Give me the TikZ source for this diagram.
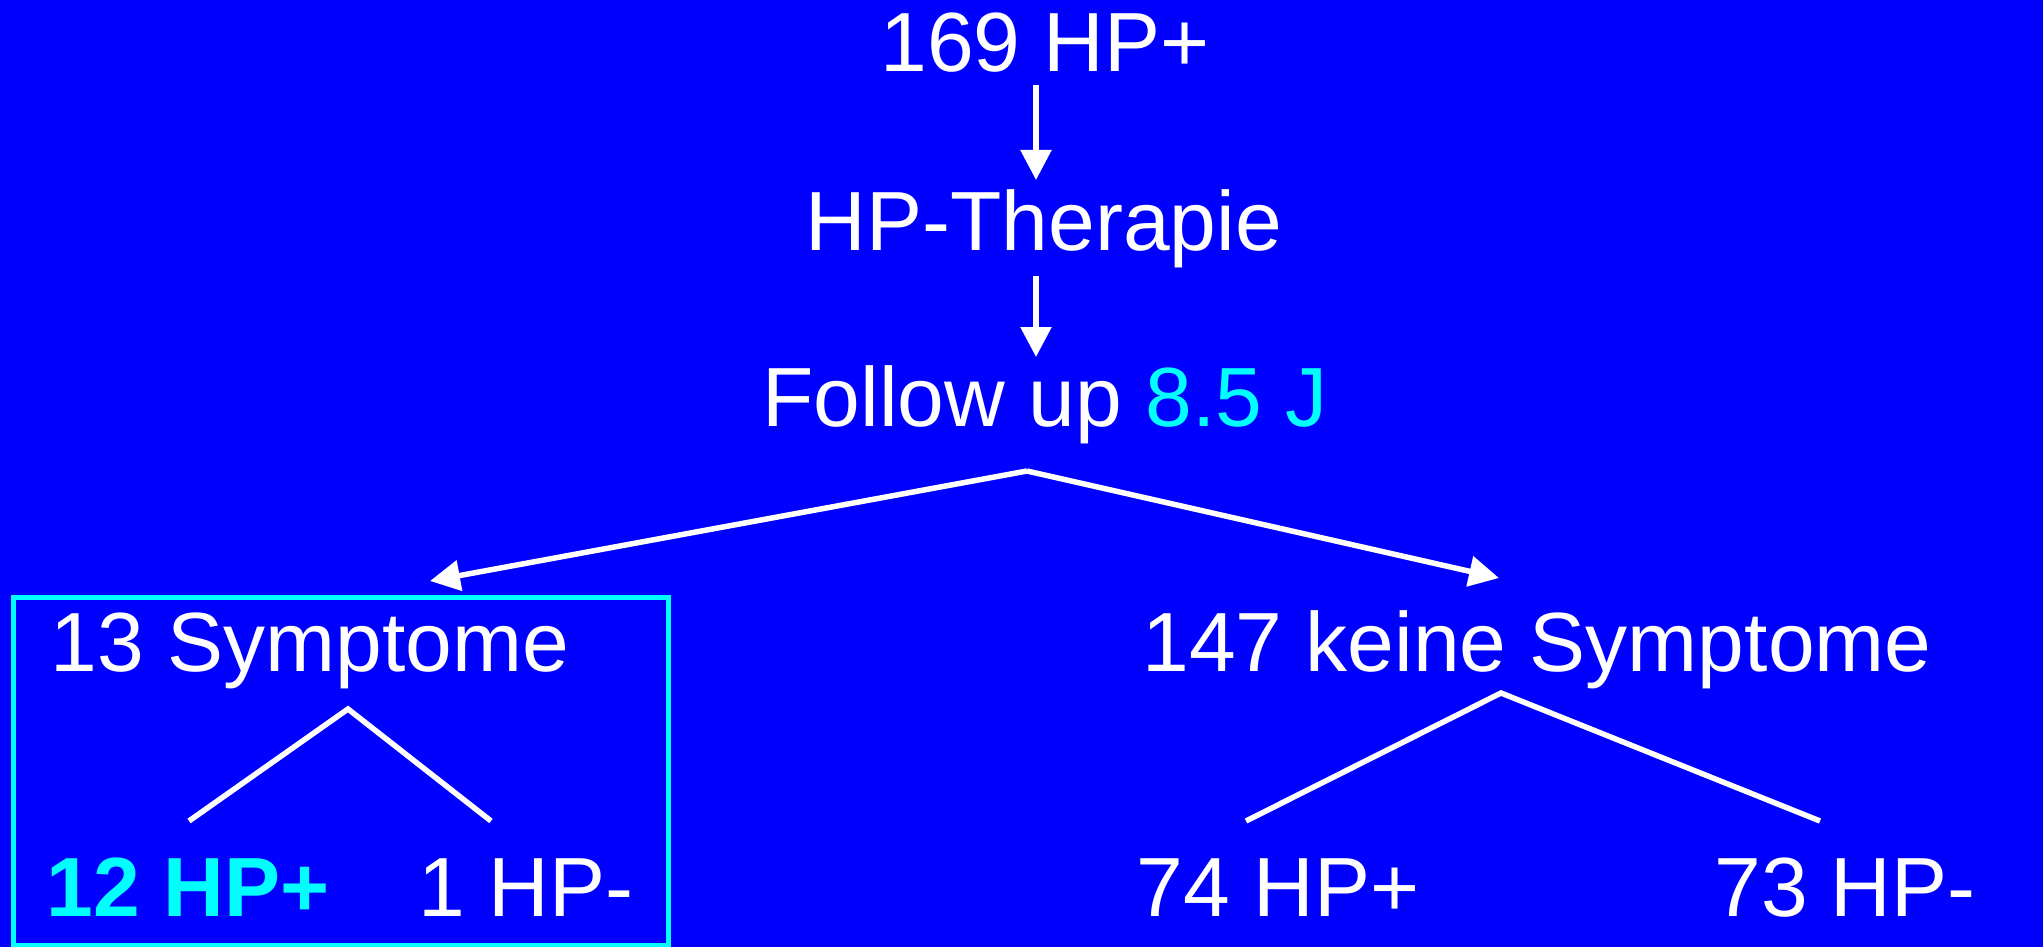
\documentclass[tikz,border=0pt]{standalone}
\usepackage{fontspec}
\setmainfont{Liberation Sans}
\usetikzlibrary{arrows.meta}
\definecolor{bgblue}{RGB}{0,0,255}
\definecolor{hlcyan}{RGB}{0,255,255}
\begin{document}
\begin{tikzpicture}[x=1pt,y=-1pt,
  lbl/.style={text=white,inner sep=0pt,anchor=base,font=\fontsize{84}{100}\selectfont},
  conn/.style={draw=white,line width=5.5pt},
  arr/.style={conn,-{Triangle[width=30pt,length=30pt]}}]
\fill[bgblue] (0,0) rectangle (2043,947);
\useasboundingbox (0,0) rectangle (2043,947);
% texts
\node[lbl] (top) at (1045,72) {169 HP+};
\node[lbl] (ther) at (1044,250) {HP-Therapie};
\node[lbl] (fu) at (1045,426) {Follow up \textcolor{hlcyan}{8.5 J}};
\node[lbl] (sym) at (310,671) {13 Symptome};
\node[lbl] (nosym) at (1537,671) {147 keine Symptome};
\node[lbl,text=hlcyan,font=\fontsize{84}{100}\selectfont\bfseries] (a) at (188,916) {12 HP+};
\node[lbl] (b) at (526,916) {1 HP-};
\node[lbl] (c) at (1278,916) {74 HP+};
\node[lbl] (d) at (1845,916) {73 HP-};
% box
\draw[hlcyan,line width=5pt] (13,597) rectangle (668,945);
% coordinates
\coordinate (t1) at (1036,85);
\coordinate (t2) at (1036,180);
\coordinate (h1) at (1036,276);
\coordinate (h2) at (1036,357);
\coordinate (apex) at (1027,471);
\coordinate (lt) at (430,581);
\coordinate (rt) at (1499,578);
\coordinate (sa) at (348,709);
\coordinate (sl) at (189,821);
\coordinate (sr) at (491,821);
\coordinate (na) at (1501,693);
\coordinate (nl) at (1246,821);
\coordinate (nr) at (1820,821);
% connectors
\draw[arr] (t1) -- (t2);
\draw[arr] (h1) -- (h2);
\draw[arr] (apex) -- (lt);
\draw[arr] (apex) -- (rt);
\draw[conn] (sl) -- (sa) -- (sr);
\draw[conn] (nl) -- (na) -- (nr);
\end{tikzpicture}
\end{document}
